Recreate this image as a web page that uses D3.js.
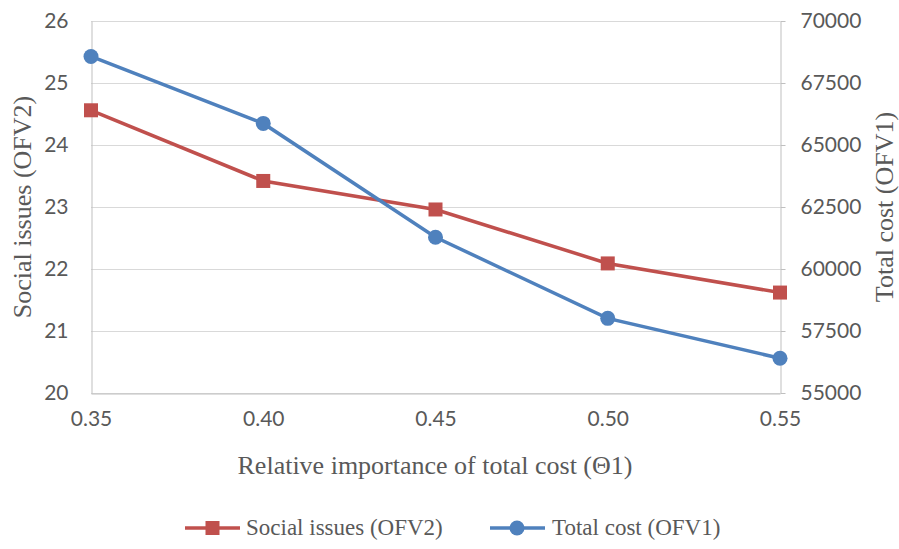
<!DOCTYPE html>
<html><head><meta charset="utf-8">
<script src="https://cdn.jsdelivr.net/npm/d3@7"></script>
<style>body{margin:0;background:#fff}svg{display:block}</style>
</head><body>
<script>
const categories = [0.35, 0.40, 0.45, 0.50, 0.55];
const xTickLabels = ["0.35","0.40","0.45","0.50","0.55"];
const socialIssues = [24.56, 23.42, 22.96, 22.09, 21.62];
const totalCost = [68570, 65870, 61280, 58010, 56400];
const leftTicks = [20,21,22,23,24,25,26];
const rightTicks = [55000,57500,60000,62500,65000,67500,70000];
const seriesNames = ["Social issues (OFV2)", "Total cost (OFV1)"];

const W=899,H=549;
const m={l:91,r:780,t:21,b:393};
const svg=d3.select("body").append("svg").attr("width",W).attr("height",H);
const x=d3.scaleLinear().domain([0.35,0.55]).range([m.l,m.r]);
const yL=d3.scaleLinear().domain([20,26]).range([m.b,m.t]);
const yR=d3.scaleLinear().domain([55000,70000]).range([m.b,m.t]);
const gray="#595959", grid="#d9d9d9";
const red="#C0504D", blue="#4F81BD";
const sans="Lato, 'Open Sans', sans-serif", serif="'Liberation Serif', 'Times New Roman', serif";

// grid
svg.append("g").selectAll("line").data(leftTicks).join("line")
 .attr("x1",m.l).attr("x2",m.r).attr("y1",d=>yL(d)+0.5).attr("y2",d=>yL(d)+0.5)
 .attr("stroke",grid).attr("stroke-width",1);

// left axis
const gl=svg.append("g").attr("transform",`translate(${m.l+0.5},0)`)
 .call(d3.axisLeft(yL).tickValues(leftTicks).tickSize(0).tickPadding(23).tickFormat(d3.format("d")));
gl.select(".domain").attr("stroke","#bfbfbf");
gl.selectAll("text").attr("font-family",sans).attr("font-size",21).attr("fill",gray);

// right axis
const gr=svg.append("g").attr("transform",`translate(${m.r+0.5},0)`)
 .call(d3.axisRight(yR).tickValues(rightTicks).tickSizeInner(5).tickSizeOuter(0).tickPadding(15).tickFormat(d3.format("d")));
gr.select(".domain").attr("stroke","#bfbfbf");
gr.selectAll("line").attr("stroke","#bfbfbf");
gr.selectAll("text").attr("font-family",sans).attr("font-size",21).attr("fill",gray);

// bottom axis
const gb=svg.append("g").attr("transform",`translate(0,${m.b+0.5})`)
 .call(d3.axisBottom(x).tickValues(categories).tickSize(0).tickPadding(18).tickFormat((d,i)=>xTickLabels[i]));
gb.select(".domain").attr("stroke","#bfbfbf");
gb.selectAll("text").attr("font-family",sans).attr("font-size",21).attr("fill",gray);

// titles
svg.append("text").attr("x",435).attr("y",474).attr("text-anchor","middle")
 .attr("font-family",serif).attr("font-size",26).attr("fill",gray).text("Relative importance of total cost (\u03981)");
svg.append("text").attr("transform",`translate(31,${(m.t+m.b)/2}) rotate(-90)`).attr("text-anchor","middle")
 .attr("font-family",serif).attr("font-size",26).attr("fill",gray).text("Social issues (OFV2)");
svg.append("text").attr("transform",`translate(893,${(m.t+m.b)/2}) rotate(-90)`).attr("text-anchor","middle")
 .attr("font-family",serif).attr("font-size",26).attr("fill",gray).text("Total cost (OFV1)");

// lines
const lineL=d3.line().x((d,i)=>x(categories[i])).y(d=>yL(d));
const lineR=d3.line().x((d,i)=>x(categories[i])).y(d=>yR(d));
svg.append("path").attr("d",lineL(socialIssues)).attr("fill","none").attr("stroke",red).attr("stroke-width",3.5);
svg.append("path").attr("d",lineR(totalCost)).attr("fill","none").attr("stroke",blue).attr("stroke-width",3.5);
const sq=14;
svg.append("g").selectAll("rect").data(socialIssues).join("rect")
 .attr("x",(d,i)=>x(categories[i])-sq/2).attr("y",d=>yL(d)-sq/2).attr("width",sq).attr("height",sq).attr("fill",red);
svg.append("g").selectAll("circle").data(totalCost).join("circle")
 .attr("cx",(d,i)=>x(categories[i])).attr("cy",d=>yR(d)).attr("r",7.5).attr("fill",blue);

// legend
const ly=528;
const lg=svg.append("g");
lg.append("line").attr("x1",185).attr("x2",240).attr("y1",ly).attr("y2",ly).attr("stroke",red).attr("stroke-width",3.5);
lg.append("rect").attr("x",212.5-7).attr("y",ly-7).attr("width",14).attr("height",14).attr("fill",red);
lg.append("text").attr("x",246).attr("y",ly+7).attr("font-family",serif).attr("font-size",23).attr("fill",gray).text(seriesNames[0]);
lg.append("line").attr("x1",490).attr("x2",545).attr("y1",ly).attr("y2",ly).attr("stroke",blue).attr("stroke-width",3.5);
lg.append("circle").attr("cx",517).attr("cy",ly).attr("r",7.5).attr("fill",blue);
lg.append("text").attr("x",552).attr("y",ly+7).attr("font-family",serif).attr("font-size",23).attr("fill",gray).text(seriesNames[1]);
</script>
</body></html>
